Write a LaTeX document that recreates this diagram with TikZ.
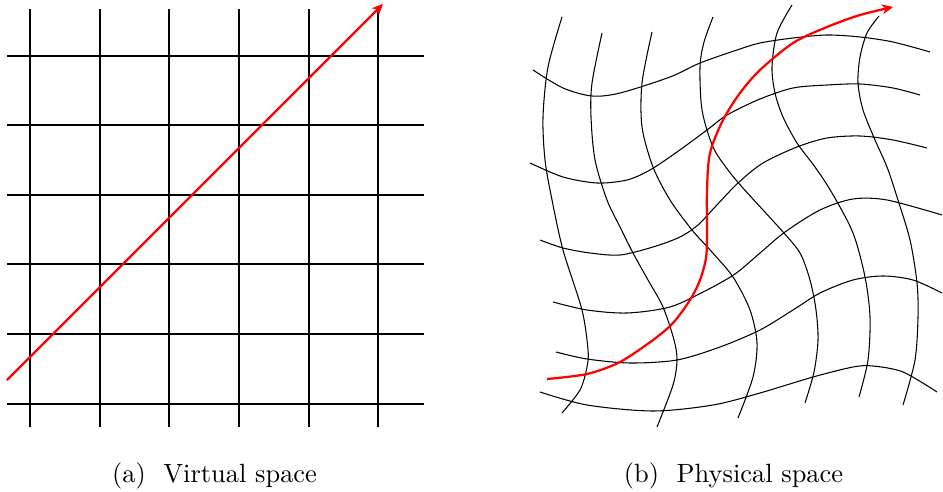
\documentclass[tikz,border=0pt]{standalone}
\usetikzlibrary{arrows.meta}
\begin{document}
\begin{tikzpicture}[x=0.3788pt,y=-0.3788pt,
  gridline/.style={line width=0.4pt,black},
  warp/.style={line width=0.4pt,black,smooth,tension=0.5},
  path red/.style={line width=0.85pt,red,-{Stealth[length=4.2pt,width=3.8pt]}},
  caption/.style={anchor=base,inner sep=0pt,font=\normalsize}]
\useasboundingbox (0,0) rectangle (943,492);
% ---- (a) virtual space grid
\foreach \x in {30,100,169,239,309,378}
  \draw[gridline] (\x,9.5) -- (\x,427);
\foreach \y in {56,125,195,264,334,404}
  \draw[gridline] (7,\y) -- (424,\y);
\coordinate (a0) at (7,380);
\coordinate (a1) at (383,4);
\draw[path red] (a0) -- (a1);
% ---- (b) physical space grid
% vertical-ish curves
\draw[warp] plot coordinates {(562,17) (548,67) (543,117) (545,160) (552,200) (563,250) (582,310) (588,350) (587,367) (580,390) (562,413)};
\draw[warp] plot coordinates {(602,33) (592,83) (591,117) (595,160) (607,200) (620,227) (633,253) (648,280) (663,307) (674,340) (677,360) (673,385) (657,427)};
\draw[warp] plot coordinates {(652,32) (642,83) (642,127) (653,167) (670,200) (692,230) (711,251) (733,277) (750,310) (757,343) (753,377) (738,418)};
\draw[warp] plot coordinates {(713,17) (704,42) (700,67) (702,110) (713,147) (728,170) (742,187) (763,210) (783,232) (800,253) (810,280) (816,310) (818,340) (814,372) (805,403)};
\draw[warp] plot coordinates {(792,5) (777,33) (772,67) (775,93) (783,117) (797,143) (815,167) (832,193) (853,233) (865,277) (870,317) (868,360) (859,397)};
\draw[warp] plot coordinates {(879,16) (867,33) (860,57) (858,83) (863,110) (875,140) (887,167) (897,197) (910,240) (917,283) (918,317) (915,360) (903,405)};
% horizontal-ish curves
\draw[warp] plot coordinates {(533,70) (563,88) (592,96) (620,93) (670,77) (700,63) (737,50) (760,43) (793,38) (827,35) (860,37) (893,42) (930,52)};
\draw[warp] plot coordinates {(530,163) (563,177) (597,183) (627,180) (650,170) (677,152) (707,130) (727,115) (760,99) (793,88) (827,85) (860,84) (893,88) (920,95)};
\draw[warp] plot coordinates {(540,240) (563,248) (590,253) (620,255) (653,247) (680,237) (698,225) (715,207) (738,183) (763,163) (797,147) (827,138) (860,136) (893,140) (927,148)};
\draw[warp] plot coordinates {(553,302) (587,310) (627,313) (670,307) (705,291) (735,274) (760,253) (785,232) (820,210) (853,199) (887,200) (942,215)};
\draw[warp] plot coordinates {(556,352) (587,359) (630,363) (677,360) (720,347) (760,330) (793,310) (820,293) (853,280) (883,276) (913,280) (942,293)};
\draw[warp] plot coordinates {(540,392) (587,405) (653,411) (713,405) (760,393) (813,377) (853,367) (873,366) (903,372) (937,392)};
% red trajectory
\draw[path red] plot[smooth,tension=0.5] coordinates {(547,379) (587,374) (620,362) (653,340) (673,323) (690,300) (700,280) (706,258) (707,235) (707,190) (710,153) (723,120) (740,93) (760,70) (793,43) (827,27) (860,15) (893,7)};
% captions
\node[caption] (capa) at (214.5,482) {(a)~~Virtual space};
\node[caption] (capb) at (733.5,482) {(b)~~Physical space};
\end{tikzpicture}
\end{document}
